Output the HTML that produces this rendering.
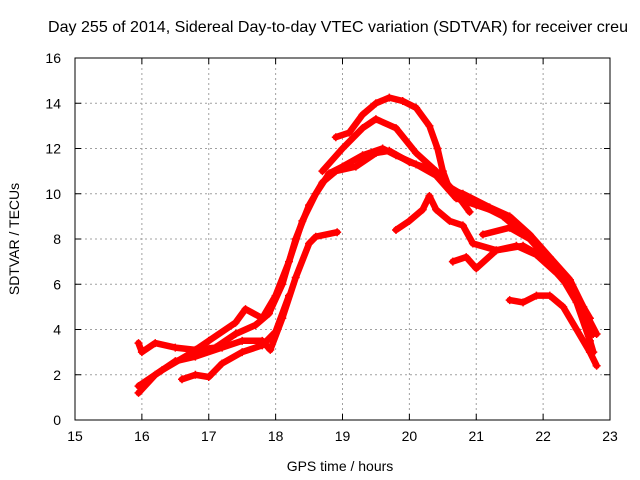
<!DOCTYPE html>
<html><head><meta charset="utf-8"><style>
body{margin:0;background:#fff}
svg{display:block;font-family:"Liberation Sans",sans-serif}
</style></head><body>
<svg width="640" height="480" viewBox="0 0 640 480">
<rect width="640" height="480" fill="#fff"/>
<text x="338" y="32" font-size="16" text-anchor="middle" textLength="580" lengthAdjust="spacingAndGlyphs">Day 255 of 2014, Sidereal Day-to-day VTEC variation (SDTVAR) for receiver creu</text>
<g id="grid"></g>
<g id="series"></g>
<rect x="75" y="58" width="535" height="362" fill="none" stroke="#000" stroke-width="1"/>
<g id="ticks"></g>
<text x="340" y="471" font-size="14" text-anchor="middle">GPS time / hours</text>
<text transform="translate(19,239) rotate(-90)" font-size="14" text-anchor="middle">SDTVAR / TECUs</text>
</svg>
<script>
const xTicks=[15,16,17,18,19,20,21,22,23];
const yTicks=[0,2,4,6,8,10,12,14,16];
const s1=[[18.9,12.5],[19.1,12.7],[19.3,13.5],[19.5,14.0],[19.7,14.25],[19.9,14.1],[20.1,13.8],[20.3,13.0],[20.42,12.0],[20.5,11.0],[20.6,10.2],[20.8,10.0],[21.2,9.4],[21.5,9.0],[21.8,8.2],[22.1,7.2],[22.4,6.2],[22.6,5.0],[22.75,3.8]];
const s2=[[18.7,11.0],[19.0,12.0],[19.3,12.9],[19.5,13.3],[19.8,12.9],[20.1,11.8],[20.4,11.0],[20.7,10.0],[20.9,9.2]];
const s3=[[15.95,1.5],[16.3,2.2],[16.7,2.9],[17.0,3.5],[17.4,4.3],[17.55,4.9],[17.8,4.5],[18.0,5.5],[18.2,7.0],[18.4,8.8],[18.6,10.0],[18.8,10.9],[19.0,11.2],[19.3,11.7],[19.6,12.0],[19.8,11.7],[20.1,11.3],[20.4,10.8],[20.7,9.8],[21.0,9.5],[21.3,9.2],[21.6,8.7],[21.9,7.8],[22.2,6.8],[22.5,5.5],[22.75,3.0]];
const s4=[[15.95,3.4],[16.0,3.0],[16.2,3.4],[16.5,3.2],[16.8,3.1],[17.1,3.2],[17.4,3.8],[17.7,4.2],[17.9,4.7],[18.1,6.0],[18.3,8.0],[18.5,9.5],[18.7,10.5],[18.9,11.0],[19.2,11.2],[19.5,11.8],[19.7,11.9],[20.0,11.4],[20.3,11.1],[20.6,10.3],[21.0,9.6],[21.4,9.0],[21.8,8.0],[22.2,6.7],[22.5,5.2],[22.7,3.5]];
const s5=[[15.95,1.2],[16.2,2.0],[16.5,2.6],[16.8,2.8],[17.2,3.2],[17.5,3.5],[17.8,3.5],[17.92,3.1],[18.1,4.5],[18.3,6.3],[18.5,7.8],[18.6,8.1],[18.92,8.3]];
const s6=[[16.6,1.8],[16.8,2.0],[17.0,1.9],[17.2,2.5],[17.5,3.0],[17.8,3.3],[18.0,3.9],[18.2,5.5]];
const s7=[[19.8,8.4],[20.0,8.8],[20.2,9.3],[20.3,9.9],[20.4,9.3],[20.6,8.8],[20.8,8.6],[20.95,7.8],[21.3,7.5],[21.7,7.7],[22.0,7.2]];
const s8=[[20.65,7.0],[20.85,7.2],[21.0,6.7],[21.3,7.5],[21.6,7.7],[21.9,7.3],[22.2,6.5],[22.5,5.5],[22.8,3.8]];
const s9=[[21.5,5.3],[21.7,5.2],[21.9,5.5],[22.1,5.5],[22.3,5.0],[22.5,4.0],[22.7,3.0],[22.8,2.4]];
const s10=[[21.1,8.2],[21.5,8.5],[21.8,8.0],[22.1,7.0],[22.4,6.0],[22.7,4.5]];
const allSeries=[s1,s2,s3,s4,s5,s6,s7,s8,s9,s10];
const NS='http://www.w3.org/2000/svg';
const X=t=>75+(t-15)*(535/8);
const Y=v=>420-v*(362/16);
function mk(tag,attrs,parent){const e=document.createElementNS(NS,tag);for(const k in attrs)e.setAttribute(k,attrs[k]);parent.appendChild(e);return e;}
const grid=document.getElementById('grid'),ticks=document.getElementById('ticks'),ser=document.getElementById('series');
xTicks.forEach(t=>{
  if(t>15&&t<23){const l=mk('line',{x1:X(t),x2:X(t),y1:58,y2:420,stroke:'#a0a0a0','stroke-dasharray':'2,3'},grid);
  
  }
  const tk=mk('path',{d:`M${X(t)},420v-6M${X(t)},58v6`,stroke:'#000'},ticks);
  
  
  const tx=mk('text',{x:X(t),y:441,'font-size':14,'text-anchor':'middle'},ticks);tx.textContent=t;
  
  
});
yTicks.forEach(v=>{
  if(v>0&&v<16){const l=mk('line',{x1:75,x2:610,y1:Y(v),y2:Y(v),stroke:'#a0a0a0','stroke-dasharray':'2,3'},grid);
  
  }
  const tk=mk('path',{d:`M75,${Y(v)}h6M610,${Y(v)}h-6`,stroke:'#000'},ticks);
  
  
  const tx=mk('text',{x:61,y:Y(v)+5,'font-size':14,'text-anchor':'end'},ticks);tx.textContent=v;
  
  
});
allSeries.forEach((s,i)=>{
  const pts=s.map(p=>X(p[0]).toFixed(1)+','+Y(p[1]).toFixed(1)).join(' ');
  const pl=mk('polyline',{points:pts,fill:'none',stroke:'#ff0000','stroke-width':6.5,'stroke-linejoin':'round','stroke-linecap':'round'},ser);
  
  
  s.forEach(p=>{
    const m=mk('path',{d:`M${X(p[0])-4},${Y(p[1])}h8M${X(p[0])},${Y(p[1])-4}v8`,stroke:'#ff0000','stroke-width':1.5},ser);
    
    
  });
});
</script>
</body></html>
